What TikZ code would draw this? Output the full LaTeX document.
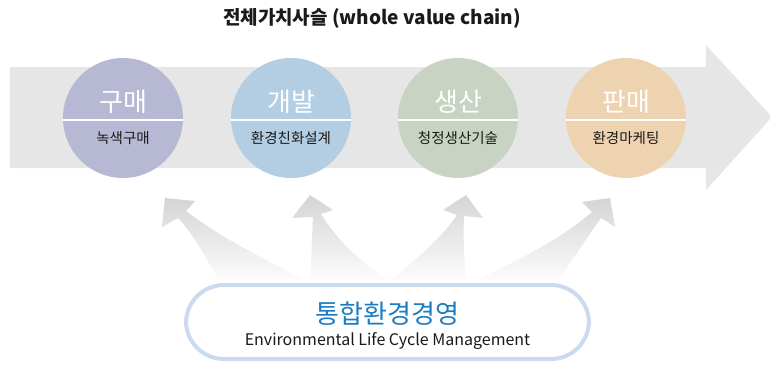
\documentclass[tikz,border=0pt]{standalone}
\usepackage{fontspec}
\setmainfont{Noto Sans CJK KR}
\usepackage{tikz}
\usetikzlibrary{calc}
\definecolor{band}{HTML}{E6E6E6}
\definecolor{fanTop}{HTML}{D4D4D4}
\definecolor{buyc}{HTML}{B6B8D4}
\definecolor{devc}{HTML}{B3CDE3}
\definecolor{prodc}{HTML}{C8D3C3}
\definecolor{sellc}{HTML}{EED3B1}
\definecolor{frame}{HTML}{CADBF0}
\definecolor{elblue}{HTML}{1B7CC1}
\definecolor{ink}{HTML}{1A1A1A}
\tikzset{
  stage/.style={circle, minimum size=120pt, inner sep=0pt},
  sep/.style={draw=white, line width=1.6pt},
  headlab/.style={text=white, font=\fontsize{26}{28}\selectfont},
  sublab/.style={text=ink, font=\fontsize{14.5}{16}\selectfont},
  fan/.style={top color=fanTop, bottom color=white, draw=none},
}

\begin{document}
\begin{tikzpicture}[x=1pt, y=-1pt]
  \useasboundingbox (0,0) rectangle (770,365);

  % title
  \node[text=ink, font=\bfseries\fontsize{19}{21}\selectfont] (title) at (372,18) {전체가치사슬 (whole value chain)};

  % big grey arrow
  \fill[band] (10,67) -- (706,67) -- (706,45) -- (772,117) -- (706,190) -- (706,168) -- (10,168) -- cycle;

  % stages
  \node[stage, fill=buyc] (buy) at (123,118) {};
  \node[stage, fill=devc] (dev) at (291,118) {};
  \node[stage, fill=prodc] (prod) at (458,118) {};
  \node[stage, fill=sellc] (sell) at (626,118) {};

  \draw[sep] ($(buy.west)+(0,2)$) -- ($(buy.east)+(0,2)$);
  \draw[sep] ($(dev.west)+(0,2)$) -- ($(dev.east)+(0,2)$);
  \draw[sep] ($(prod.west)+(0,2)$) -- ($(prod.east)+(0,2)$);
  \draw[sep] ($(sell.west)+(0,2)$) -- ($(sell.east)+(0,2)$);

  \node[headlab] (buyT) at ($(buy)+(0,-16)$) {구매};
  \node[headlab] (devT) at ($(dev)+(0,-16)$) {개발};
  \node[headlab] (prodT) at ($(prod)+(0,-16)$) {생산};
  \node[headlab] (sellT) at ($(sell)+(0,-16)$) {판매};

  \node[sublab] (buyS) at ($(buy)+(0,20)$) {녹색구매};
  \node[sublab] (devS) at ($(dev)+(0,20)$) {환경친화설계};
  \node[sublab] (prodS) at ($(prod)+(0,20)$) {청정생산기술};
  \node[sublab] (sellS) at ($(sell)+(0,20)$) {환경마케팅};

  % fanning arrows
  \shade[fan] (222,286) .. controls (205,255) and (190,230) .. (178,218) -- (162,227) -- (165,198) -- (195,201) -- (186,211)
    .. controls (230,245) and (280,265) .. (310,284) -- cycle;
  \shade[fan] (310,284) .. controls (312,250) and (312,230) .. (313,217) -- (292,218) -- (310,195) -- (333,210) -- (321,214)
    .. controls (340,245) and (370,270) .. (398,286) -- cycle;
  \shade[fan] (383,286) .. controls (410,265) and (440,240) .. (457,215) -- (443,210) -- (466,195) -- (483,218) -- (464,216)
    .. controls (463,240) and (464,260) .. (467,284) -- cycle;
  \shade[fan] (467,284) .. controls (510,265) and (560,240) .. (592,212) -- (582,202) -- (610,198) -- (615,227) -- (601,218)
    .. controls (585,240) and (570,265) .. (553,286) -- cycle;

  % management box
  \node[draw=frame, line width=4pt, fill=white, rounded corners=38pt, minimum width=403pt, minimum height=74pt] (elcm) at (387.5,322) {};
  \node[text=elblue, font=\fontsize{26}{28}\selectfont] (elcmK) at ($(elcm)+(0,-8)$) {통합환경경영};
  \node[text=ink, font=\fontsize{16}{18}\selectfont] (elcmE) at ($(elcm)+(0,19)$) {Environmental Life Cycle Management};
\end{tikzpicture}
\end{document}
